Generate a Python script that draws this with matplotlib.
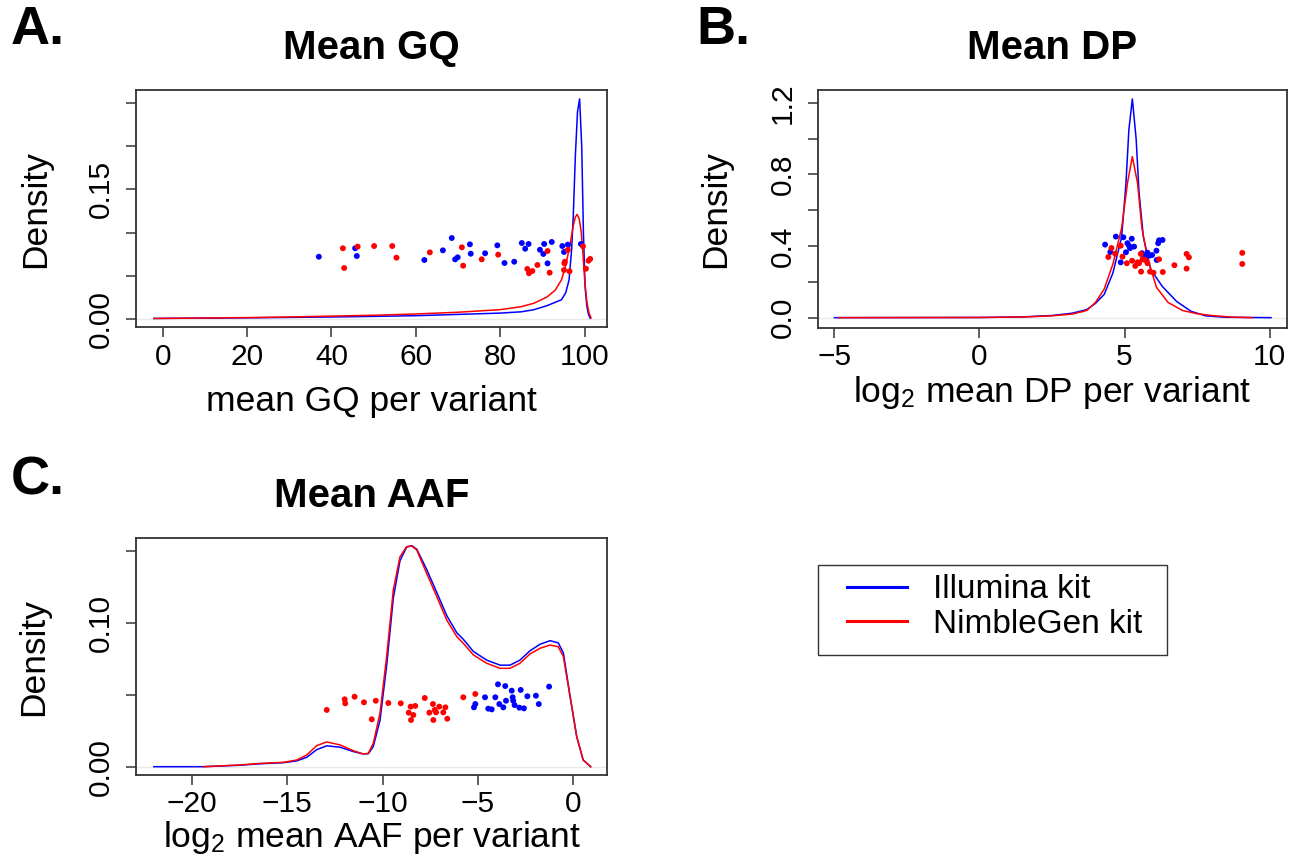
import numpy as np
import matplotlib
matplotlib.use("Agg")
import matplotlib.pyplot as plt
from matplotlib.lines import Line2D
from matplotlib.patches import Rectangle

plt.rcParams['font.family'] = ['Liberation Sans', 'DejaVu Sans']
plt.rcParams['mathtext.fontset'] = 'custom'
plt.rcParams['mathtext.rm'] = 'Liberation Sans'
plt.rcParams['mathtext.default'] = 'regular'

BLUE = '#0000ff'
RED = '#ff0000'

# ---- Mean GQ: density curves ----
gq_ill_x = [-2.1, 10, 20, 30, 40, 50, 60, 70, 80, 85, 88, 91, 93, 94.5, 95.5, 96.3,
            96.9, 97.3, 97.8, 98.3, 98.8, 99.3, 99.7, 100.1, 100.5, 100.9, 101.3]
gq_ill_y = [0.0003, 0.0007, 0.001, 0.0015, 0.002, 0.0027, 0.0035, 0.005, 0.0065, 0.008,
            0.0105, 0.015, 0.019, 0.022, 0.03, 0.045, 0.08, 0.12, 0.19, 0.24, 0.255,
            0.20, 0.10, 0.037, 0.015, 0.005, 0.0005]
gq_nim_x = [-2.1, 10, 20, 30, 40, 50, 60, 70, 80, 85, 88, 91, 93, 94.5, 95.5, 96.5,
            97.3, 97.8, 98.2, 98.7, 99.2, 99.6, 100.0, 100.5, 101.0, 101.5]
gq_nim_y = [0.0003, 0.0008, 0.0013, 0.002, 0.003, 0.004, 0.0055, 0.0075, 0.0105, 0.014,
            0.018, 0.025, 0.033, 0.045, 0.062, 0.085, 0.108, 0.118, 0.121, 0.116, 0.10,
            0.075, 0.045, 0.02, 0.007, 0.001]
# per-sample means (jittered height)
gq_ill_pts_x = [37.0, 45.6, 46.0, 62.0, 66.4, 68.5, 69.3, 69.9, 72.8, 73.0, 76.4, 79.3, 81.0,
                83.3, 85.1, 85.9, 86.7, 89.4, 90.2, 90.4, 91.2, 92.2, 94.7, 95.1, 96.0, 99.1]
gq_ill_pts_y = [0.0719, 0.0817, 0.0727, 0.0681, 0.0793, 0.0936, 0.0689, 0.0712, 0.0863,
                0.0754, 0.0759, 0.0851, 0.0646, 0.0661, 0.0878, 0.0812, 0.0867, 0.0800,
                0.0751, 0.0867, 0.0642, 0.0890, 0.0843, 0.0774, 0.0859, 0.0867]
gq_nim_pts_x = [42.7, 43.0, 46.2, 50.1, 54.4, 55.4, 63.3, 70.9, 71.2, 75.6, 79.5, 86.4, 86.8,
                87.6, 88.8, 91.2, 91.7, 95.2, 95.1, 95.3, 96.0, 96.4, 99.6, 100.3, 100.9, 101.3]
gq_nim_pts_y = [0.0817, 0.0588, 0.0836, 0.0843, 0.0843, 0.0708, 0.0770, 0.0828, 0.0615,
                0.0689, 0.0743, 0.0577, 0.0527, 0.0553, 0.0623, 0.0785, 0.0534, 0.0642,
                0.0565, 0.0661, 0.0797, 0.0550, 0.0840, 0.0580, 0.0673, 0.0693]

# ---- Mean DP (log2) ----
dp_ill_x = [-5.0, 0, 1.5, 2.5, 3.2, 3.7, 4.0, 4.3, 4.6, 4.9, 5.05, 5.15, 5.27, 5.4, 5.5,
            5.65, 5.9, 6.3, 6.8, 7.3, 7.8, 8.5, 10.05]
dp_ill_y = [0.0, 0.001, 0.004, 0.012, 0.025, 0.045, 0.08, 0.13, 0.25, 0.45, 0.75, 1.05,
            1.222, 1.0, 0.7, 0.45, 0.27, 0.175, 0.09, 0.035, 0.01, 0.002, 0.0]
dp_nim_x = [-4.85, 0, 1.5, 2.5, 3.2, 3.7, 4.0, 4.3, 4.6, 4.9, 5.1, 5.27, 5.45, 5.6, 5.8,
            6.1, 6.5, 7.0, 7.5, 8.0, 8.7, 9.4]
dp_nim_y = [0.0, 0.001, 0.004, 0.01, 0.02, 0.04, 0.085, 0.16, 0.3, 0.5, 0.75, 0.90, 0.75,
            0.5, 0.33, 0.17, 0.085, 0.04, 0.022, 0.012, 0.003, 0.0]
dp_ill_pts_x = [4.33, 4.51, 4.70, 4.87, 4.96, 5.05, 5.10, 5.16, 5.19, 5.25, 5.33, 5.60, 5.68,
                5.79, 5.85, 6.10, 6.11, 6.16, 6.19, 6.31, 5.95]
dp_ill_pts_y = [0.408, 0.367, 0.453, 0.309, 0.449, 0.365, 0.416, 0.401, 0.388, 0.441, 0.397,
                0.360, 0.341, 0.363, 0.346, 0.374, 0.322, 0.416, 0.432, 0.434, 0.350]
dp_nim_pts_x = [4.44, 4.55, 4.68, 4.87, 4.93, 5.08, 5.26, 5.37, 5.45, 5.50, 5.56, 5.57, 5.62,
                5.71, 5.79, 5.88, 6.00, 6.19, 6.32, 6.72, 7.14, 7.14, 7.22, 9.06, 9.06]
dp_nim_pts_y = [0.339, 0.389, 0.357, 0.402, 0.341, 0.304, 0.318, 0.289, 0.309, 0.304, 0.356,
                0.257, 0.326, 0.322, 0.304, 0.257, 0.251, 0.326, 0.255, 0.293, 0.274, 0.356,
                0.337, 0.362, 0.300]

# ---- Mean AAF (log2) ----
aaf_ill_x = [-22.0, -19.4, -17.48, -16.43, -15.21, -14.51, -13.98, -13.46, -12.93, -12.23,
             -11.54, -11.01, -10.75, -10.49, -10.14, -9.79, -9.44, -9.09, -8.74, -8.47,
             -8.21, -7.69, -7.16, -6.64, -6.11, -5.77, -5.24, -4.54, -3.84, -3.32, -2.80,
             -2.27, -1.75, -1.22, -0.79, -0.52, -0.17, 0.18, 0.52, 0.91]
aaf_ill_y = [0.0, 0.0, 0.0010, 0.0020, 0.0028, 0.0040, 0.0065, 0.0118, 0.0145, 0.0135,
             0.0105, 0.0088, 0.0090, 0.0140, 0.032, 0.070, 0.117, 0.143, 0.1525, 0.1535,
             0.151, 0.137, 0.121, 0.105, 0.093, 0.0885, 0.080, 0.074, 0.0705, 0.0705,
             0.074, 0.0805, 0.085, 0.0875, 0.086, 0.079, 0.049, 0.0208, 0.0046, 0.0]
aaf_nim_x = [-19.40, -17.48, -16.43, -15.21, -14.51, -13.98, -13.46, -12.93, -12.23, -11.54,
             -11.01, -10.75, -10.49, -10.14, -9.79, -9.44, -9.09, -8.74, -8.47, -8.21,
             -7.69, -7.16, -6.64, -6.11, -5.77, -5.24, -4.54, -3.84, -3.32, -2.80, -2.27,
             -1.75, -1.22, -0.79, -0.52, -0.17, 0.18, 0.52, 0.91]
aaf_nim_y = [0.0, 0.0012, 0.0023, 0.0030, 0.0046, 0.0081, 0.0146, 0.0172, 0.0151, 0.0111,
             0.0088, 0.0093, 0.0162, 0.0370, 0.0764, 0.1227, 0.1458, 0.1528, 0.1532, 0.1505,
             0.1343, 0.1181, 0.1019, 0.0903, 0.0857, 0.0776, 0.0718, 0.0683, 0.0683, 0.0718,
             0.0783, 0.0822, 0.0845, 0.0833, 0.0764, 0.0486, 0.0208, 0.0046, 0.0]
aaf_ill_pts_x = [-5.21, -5.14, -4.63, -4.46, -4.28, -4.09, -3.95, -3.88, -3.67, -3.57, -3.53,
                 -3.23, -3.18, -3.15, -3.08, -2.83, -2.76, -2.59, -2.41, -1.96, -1.81, -1.27]
aaf_ill_pts_y = [0.0412, 0.0435, 0.0482, 0.0403, 0.0398, 0.0482, 0.0572, 0.0435, 0.0412,
                 0.0560, 0.0458, 0.0528, 0.0482, 0.0458, 0.0428, 0.0410, 0.0533, 0.0405,
                 0.0489, 0.0493, 0.0435, 0.0556]
aaf_nim_pts_x = [-12.93, -11.99, -11.96, -11.47, -10.98, -10.57, -10.36, -9.70, -9.05, -8.63,
                 -8.53, -8.51, -8.39, -8.29, -7.79, -7.55, -7.36, -7.34, -7.27, -7.20, -7.03,
                 -6.82, -6.71, -6.61, -5.77, -5.14]
aaf_nim_pts_y = [0.0394, 0.0468, 0.0440, 0.0486, 0.0447, 0.0329, 0.0458, 0.0442, 0.0440,
                 0.0375, 0.0417, 0.0324, 0.0359, 0.0422, 0.0477, 0.0375, 0.0435, 0.0324,
                 0.0394, 0.0377, 0.0417, 0.0377, 0.0412, 0.0333, 0.0482, 0.0505]

kits = ['Illumina kit', 'NimbleGen kit']


def style_axis(ax, xticks, yticks, ylabels, xlim, ylim, xlabel, xlab_y, ylab_x):
    """R-like box, outward ticks, rotated y tick labels"""
    ax.set_xlim(xlim)
    ax.set_ylim(ylim)
    ax.set_xticks(xticks)
    ax.set_yticks(yticks)
    ax.set_yticklabels(ylabels, rotation=90, va='center')
    for s in ax.spines.values():
        s.set_linewidth(1.3)
        s.set_color('#333333')
    ax.tick_params(axis='both', direction='out', length=7, width=1.1, color='#333333',
                   labelsize=21.5)
    ax.tick_params(axis='x', pad=4)
    ax.tick_params(axis='y', pad=8)
    ax.axhline(0, color='#e8e8e8', lw=1.0, zorder=0)
    ax.set_xlabel(xlabel, fontsize=25.5)
    ax.xaxis.set_label_coords(0.5, xlab_y)
    ax.xaxis.label.set_va('baseline')
    ax.set_ylabel('Density', fontsize=25.5)
    ax.yaxis.set_label_coords(ylab_x, 0.5)


def draw_panel(ax, cx_i, cy_i, cx_n, cy_n, px_i, py_i, px_n, py_n):
    ax.plot(cx_i, cy_i, color=BLUE, lw=1.1)
    ax.plot(cx_n, cy_n, color=RED, lw=1.1)
    ax.scatter(px_i, py_i, s=18, color=BLUE, edgecolors='none', zorder=3)
    ax.scatter(px_n, py_n, s=18, color=RED, edgecolors='none', zorder=3)


fig = plt.figure(figsize=(13.01, 8.58), dpi=100)
ax_a = fig.add_axes([0.1043, 0.6185, 0.3623, 0.2766])
ax_b = fig.add_axes([0.6287, 0.6181, 0.3605, 0.2770])
ax_c = fig.add_axes([0.1043, 0.0967, 0.3626, 0.2759])

draw_panel(ax_a, gq_ill_x, gq_ill_y, gq_nim_x, gq_nim_y,
           gq_ill_pts_x, gq_ill_pts_y, gq_nim_pts_x, gq_nim_pts_y)
style_axis(ax_a, [0, 20, 40, 60, 80, 100], [0, 0.05, 0.10, 0.15, 0.20, 0.25],
           ['0.00', '', '', '0.15', '', ''], (-6.4, 105.3), (-0.010, 0.2653),
           'mean GQ per variant', -0.3527, -0.1776)

draw_panel(ax_b, dp_ill_x, dp_ill_y, dp_nim_x, dp_nim_y,
           dp_ill_pts_x, dp_ill_pts_y, dp_nim_pts_x, dp_nim_pts_y)
style_axis(ax_b, [-5, 0, 5, 10], [0, 0.2, 0.4, 0.6, 0.8, 1.0, 1.2],
           ['0.0', '', '0.4', '', '0.8', '', '1.2'], (-5.57, 10.6), (-0.056, 1.272),
           r'log$_2$ mean DP per variant', -0.311, -0.184)

draw_panel(ax_c, aaf_ill_x, aaf_ill_y, aaf_nim_x, aaf_nim_y,
           aaf_ill_pts_x, aaf_ill_pts_y, aaf_nim_pts_x, aaf_nim_pts_y)
style_axis(ax_c, [-20, -15, -10, -5, 0], [0, 0.05, 0.10, 0.15],
           ['0.00', '', '0.10', ''], (-22.95, 1.79), (-0.0058, 0.1586),
           r'log$_2$ mean AAF per variant', -0.303, -0.1817)

# titles and panel letters
for ax, title in [(ax_a, 'Mean GQ'), (ax_b, 'Mean DP'), (ax_c, 'Mean AAF')]:
    ax.text(0.5, 1.178, title, transform=ax.transAxes, ha='center', va='center',
            fontsize=29, fontweight='bold')
fig.text(11 / 1301, 1 - 30 / 858, 'A.', fontsize=39, fontweight='bold', va='center')
fig.text(696 / 1301, 1 - 30 / 858, 'B.', fontsize=39, fontweight='bold', va='center')
fig.text(11 / 1301, 1 - 480 / 858, 'C.', fontsize=39, fontweight='bold', va='center')

# legend: entries without frame, R-style box drawn separately
handles = [Line2D([], [], color=BLUE, lw=2.2), Line2D([], [], color=RED, lw=2.2)]
leg = fig.legend(handles, kits, loc='center left',
                 bbox_to_anchor=(847 / 1301, 1 - 607 / 858),
                 fontsize=24, frameon=False, handlelength=1.8, handletextpad=0.78,
                 borderpad=0, labelspacing=0.1, borderaxespad=0)
fig.add_artist(Rectangle((818 / 1301, 1 - 655 / 858), 349 / 1301, 90 / 858,
                         transform=fig.transFigure, fill=False, ec='#333333', lw=1.0))

fig.savefig('out.png', dpi=100)
